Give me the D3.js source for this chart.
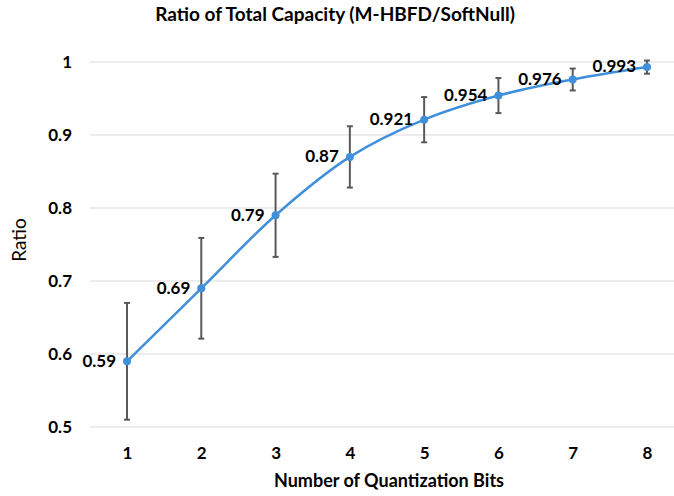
<!DOCTYPE html>
<html>
<head>
<meta charset="utf-8">
<script src="https://cdn.jsdelivr.net/npm/d3@7"></script>
<style>
  body { margin: 0; background: #fff; }
  text { font-family: Lato, "Open Sans", sans-serif; fill: #000; }
</style>
</head>
<body>
<div id="chart"></div>
<script>
const bits = [1, 2, 3, 4, 5, 6, 7, 8];
const ratios = [0.59, 0.69, 0.79, 0.87, 0.921, 0.954, 0.976, 0.993];
const errors = [0.08, 0.069, 0.057, 0.042, 0.031, 0.024, 0.015, 0.009];
const labels = ['0.59', '0.69', '0.79', '0.87', '0.921', '0.954', '0.976', '0.993'];
const yTicks = [0.5, 0.6, 0.7, 0.8, 0.9, 1];

const width = 674, height = 496;
const svg = d3.select('#chart').append('svg')
    .attr('width', width)
    .attr('height', height);

const x = d3.scalePoint()
    .domain(bits)
    .range([127, 647]);

const y = d3.scaleLinear()
    .domain([0.5, 1])
    .range([427, 62]);

// gridlines
svg.append('g')
    .selectAll('line')
    .data(yTicks)
    .join('line')
    .attr('x1', 90)
    .attr('x2', 674)
    .attr('y1', d => y(d))
    .attr('y2', d => y(d))
    .attr('stroke', '#d9d9d9')
    .attr('stroke-width', 1);

const yAxis = svg.append('g')
    .attr('transform', 'translate(80, 0)')
    .call(d3.axisLeft(y).tickValues(yTicks).tickFormat(d => d3.format('')(d)).tickSize(0).tickPadding(8));
yAxis.select('.domain').remove();
yAxis.selectAll('text')
    .attr('font-size', 17)
    .attr('font-weight', 'bold')
    .attr('font-family', 'Lato, sans-serif');

const xAxis = svg.append('g')
    .attr('transform', 'translate(0, 445)')
    .call(d3.axisBottom(x).tickSize(0).tickPadding(2));
xAxis.select('.domain').remove();
xAxis.selectAll('text')
    .attr('font-size', 17)
    .attr('font-weight', 'bold')
    .attr('font-family', 'Lato, sans-serif');

// error bars
const eb = svg.append('g')
    .attr('stroke', '#595959')
    .attr('stroke-width', 2);
eb.selectAll('line.bar')
    .data(bits)
    .join('line')
    .attr('class', 'bar')
    .attr('x1', d => x(d))
    .attr('x2', d => x(d))
    .attr('y1', (d, i) => y(ratios[i] + errors[i]))
    .attr('y2', (d, i) => y(ratios[i] - errors[i]));
[1, -1].forEach(s => {
    eb.selectAll('line.cap' + s)
        .data(bits)
        .join('line')
        .attr('x1', d => x(d) - 3)
        .attr('x2', d => x(d) + 3)
        .attr('y1', (d, i) => y(ratios[i] + s * errors[i]))
        .attr('y2', (d, i) => y(ratios[i] + s * errors[i]));
});

// line
svg.append('path')
    .datum(bits)
    .attr('fill', 'none')
    .attr('stroke', '#3f8fda')
    .attr('stroke-width', 2.5)
    .attr('d', d3.line()
        .x(d => x(d))
        .y((d, i) => y(ratios[i]))
        .curve(d3.curveCatmullRom.alpha(0.5)));

svg.append('g')
    .selectAll('circle')
    .data(bits)
    .join('circle')
    .attr('cx', d => x(d))
    .attr('cy', (d, i) => y(ratios[i]))
    .attr('r', 4)
    .attr('fill', '#3f8fda');

// data labels
svg.append('g')
    .selectAll('text')
    .data(bits)
    .join('text')
    .attr('x', d => x(d) - 11)
    .attr('y', (d, i) => y(ratios[i]) + 1)
    .attr('text-anchor', 'end')
    .attr('dominant-baseline', 'middle')
    .attr('font-size', 17)
    .attr('font-weight', 'bold')
    .text((d, i) => labels[i]);

// titles
svg.append('text')
    .attr('x', 335)
    .attr('y', 21)
    .attr('text-anchor', 'middle')
    .attr('font-size', 19)
    .attr('font-weight', 'bold')
    .text('Ratio of Total Capacity (M-HBFD/SoftNull)');

svg.append('text')
    .attr('x', 389)
    .attr('y', 487)
    .attr('text-anchor', 'middle')
    .attr('font-size', 18)
    .attr('font-weight', 'bold')
    .text('Number of Quantization Bits');

svg.append('text')
    .attr('transform', 'translate(26, 240) rotate(-90)')
    .attr('text-anchor', 'middle')
    .attr('font-size', 19)
    .text('Ratio');
</script>
</body>
</html>
